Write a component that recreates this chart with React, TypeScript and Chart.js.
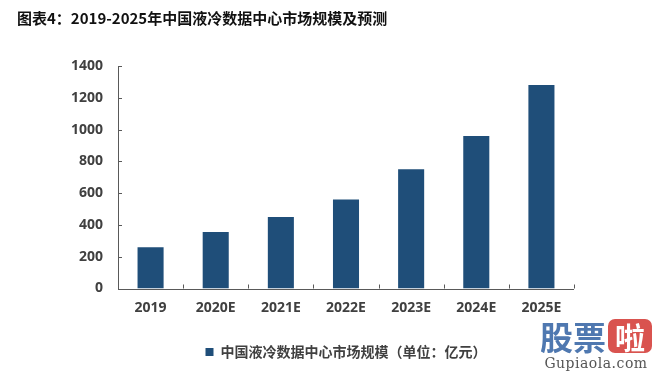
import React, { useEffect, useRef } from "react";
import { Chart, registerables } from "chart.js";

Chart.register(...registerables);

const categories = ["2019", "2020E", "2021E", "2022E", "2023E", "2024E", "2025E"];
const marketSize = [260, 355, 450, 560, 750, 960, 1280];
const seriesLabel = "中国液冷数据中心市场规模（单位：亿元）";
const titleText = "图表4：2019-2025年中国液冷数据中心市场规模及预测";
const yTicks = [0, 200, 400, 600, 800, 1000, 1200, 1400];

const BAR = "#1f4e79";
const AXIS = "#595959";
const TEXT = "#404040";

const innerTicks = {
  id: "innerTicks",
  afterDraw(chart: any) {
    const { ctx, scales } = chart;
    const x = scales.x;
    const y = scales.y;
    ctx.save();
    ctx.strokeStyle = AXIS;
    ctx.lineWidth = 1;
    ctx.beginPath();
    ctx.moveTo(Math.round(x.left) + 0.5, y.top);
    ctx.lineTo(Math.round(x.left) + 0.5, Math.round(y.bottom) + 0.5);
    ctx.lineTo(x.right, Math.round(y.bottom) + 0.5);
    for (const v of yTicks) {
      const py = Math.round(y.getPixelForValue(v)) + 0.5;
      ctx.moveTo(x.left, py);
      ctx.lineTo(x.left + 4, py);
    }
    const n = categories.length;
    const step = (x.right - x.left) / n;
    for (let i = 0; i <= n; i++) {
      const px = Math.round(x.left + i * step) + 0.5;
      ctx.moveTo(px, y.bottom);
      ctx.lineTo(px, y.bottom - 4);
    }
    ctx.stroke();
    ctx.restore();
  },
};

export default function App() {
  const ref = useRef<HTMLCanvasElement>(null);
  useEffect(() => {
    if (!ref.current) return;
    const chart = new Chart(ref.current, {
      type: "bar",
      data: {
        labels: categories,
        datasets: [
          {
            label: seriesLabel,
            data: marketSize,
            backgroundColor: BAR,
            barPercentage: 0.4,
            categoryPercentage: 1,
          },
        ],
      },
      options: {
        animation: false,
        responsive: false,
        maintainAspectRatio: false,
        layout: { padding: { left: 0, right: 0, top: 66, bottom: 7 } },
        plugins: {
          title: { display: false },
          tooltip: { enabled: false },
          legend: {
            position: "bottom",
            labels: {
              boxWidth: 8,
              boxHeight: 8,
              color: TEXT,
              padding: 10,
              font: { family: "'Noto Sans CJK SC'", size: 14, weight: "bold" },
            },
          },
        },
        scales: {
          x: {
            grid: { display: false, drawTicks: false },
            border: { display: false },
            ticks: {
              color: TEXT,
              padding: 11,
              font: { family: "'Open Sans'", size: 14, weight: "bold" },
            },
            afterFit: (s: any) => {
              s.height = 46.5;
            },
          },
          y: {
            min: 0,
            max: 1400,
            grid: { display: false, drawTicks: false },
            border: { display: false },
            afterBuildTicks: (s: any) => {
              s.ticks = yTicks.map((v) => ({ value: v }));
            },
            ticks: {
              color: TEXT,
              padding: 15,
              callback: (v: any) => String(v),
              font: { family: "'Open Sans'", size: 14, weight: "bold" },
            },
            afterFit: (s: any) => {
              s.width = 118;
            },
          },
          yRightSpacer: {
            display: true,
            position: "right",
            min: 0,
            max: 1400,
            grid: { display: false, drawTicks: false },
            border: { display: false },
            ticks: { display: false },
            afterFit: (s: any) => {
              s.width = 118;
            },
          },
        },
      },
      plugins: [innerTicks],
    });
    return () => chart.destroy();
  }, []);

  return (
    <div style={{ position: "fixed", left: 0, top: 0, width: 660, height: 376, background: "#fff", overflow: "hidden" }}>
      <canvas ref={ref} width={692} height={376} style={{ position: "absolute", left: 0, top: 0 }} />
      <div
        style={{
          position: "absolute",
          left: 17,
          top: 7,
          fontFamily: "'Noto Sans CJK SC'",
          fontWeight: "bold",
          fontSize: 15,
          color: "#111",
          whiteSpace: "nowrap",
        }}
      >
        {titleText}
      </div>
      <div style={{ position: "absolute", left: 534, top: 318, width: 124, textAlign: "center" }}>
        <div style={{ display: "flex", alignItems: "center", justifyContent: "center", gap: 2 }}>
          <span
            style={{
              fontFamily: "'Noto Sans CJK SC'",
              fontWeight: "bold",
              fontSize: 33,
              lineHeight: "36px",
              color: "#4f78b0",
            }}
          >
            股票
          </span>
          <span
            style={{
              fontFamily: "'Noto Sans CJK SC'",
              fontWeight: "bold",
              fontSize: 30,
              lineHeight: "34px",
              color: "#fff",
              background: "#d9534f",
              borderRadius: 7,
              padding: "0 7px",
            }}
          >
            啦
          </span>
        </div>
        <div style={{ fontFamily: "'DejaVu Serif'", fontSize: 14, color: "#555", lineHeight: "18px", letterSpacing: 0.5 }}>
          Gupiaola.com
        </div>
      </div>
    </div>
  );
}
